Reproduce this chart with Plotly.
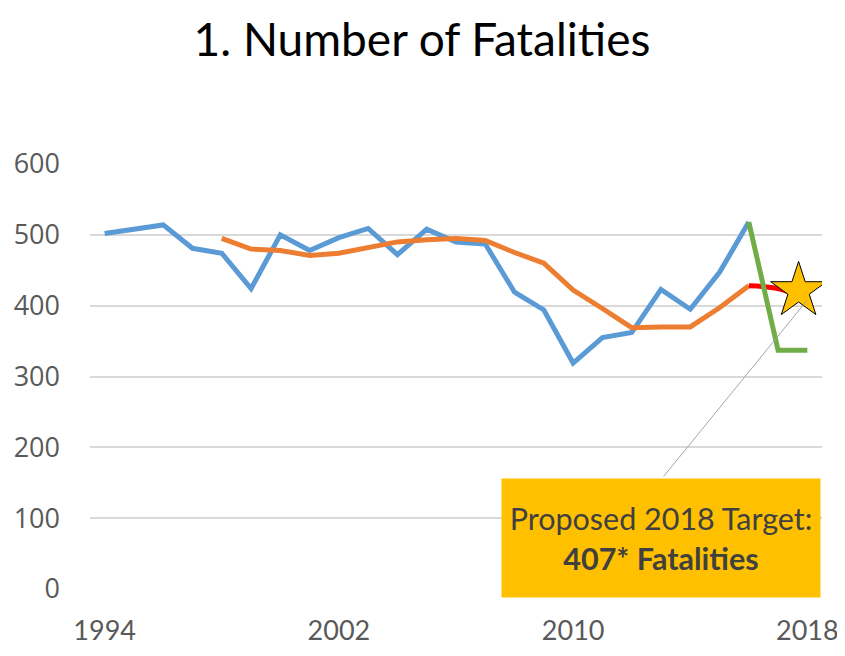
import plotly.graph_objects as go

years = list(range(1994, 2019))

fatalities = [502, 508, 514, 481, 474, 424, 500, 478, 496, 509, 472, 508, 490, 487,
              419, 394, 319, 355, 362, 423, 395, 447, 518, None, None]

five_year_avg = [None, None, None, None, 495, 480, 478, 471, 474, 482, 490, 493, 495, 492,
                 475, 460, 422, 396, 369, 370, 370, 397, 428, None, None]

trend_years = [2016, 2017, 2018]
trend_values = [428, 424, 408]

proposed_years = [2016, 2017, 2018]
proposed_values = [518, 337, 337]

target_year = [2017.7]
target_value = [421]

font = "Lato"
# page body has an 8px margin, keep the figure inside the window
W, H = 837, 640

fig = go.Figure()

fig.add_trace(go.Scatter(x=years, y=fatalities, mode="lines",
                         line=dict(color="#5B9BD5", width=5), connectgaps=False))
fig.add_trace(go.Scatter(x=years, y=five_year_avg, mode="lines",
                         line=dict(color="#ED7D31", width=5), connectgaps=False))
fig.add_trace(go.Scatter(x=trend_years, y=trend_values, mode="lines",
                         line=dict(color="#FF0000", width=5, shape="spline")))
fig.add_trace(go.Scatter(x=proposed_years, y=proposed_values, mode="lines",
                         line=dict(color="#70AD47", width=5)))
fig.add_trace(go.Scatter(x=target_year, y=target_value, mode="markers",
                         marker=dict(symbol="star", size=42, color="#FFC000",
                                     line=dict(color="black", width=1))))

# leader line from the target to the box
fig.add_annotation(x=2018, y=408, xref="x", yref="y", text="",
                   showarrow=True, arrowhead=0, arrowwidth=1, arrowcolor="#A6A6A6",
                   ax=-145, ay=178)

fig.add_annotation(x=2013.0, y=72, xref="x", yref="y",
                   text="Proposed 2018 Target:<br><b>407* Fatalities</b>",
                   showarrow=False, bgcolor="#FFC000", width=318, height=118,
                   borderpad=0, align="center",
                   font=dict(family=font, size=30.5, color="#404040"))

fig.update_layout(
    width=W, height=H,
    margin=dict(l=82, r=23, t=156, b=59),
    paper_bgcolor="white", plot_bgcolor="white",
    showlegend=False,
    title=dict(text="1. Number of Fatalities", x=414 / W, xref="container",
               y=1 - 32 / H, yanchor="middle", xanchor="center",
               font=dict(family=font, size=46, color="black")),
)

fig.update_xaxes(range=[1993.5, 2018.5], tickvals=[1994, 2002, 2010, 2018],
                 showgrid=False, zeroline=False, showline=False, ticks="",
                 ticklabelstandoff=23, automargin=False, ticklabeloverflow="allow",
                 tickfont=dict(family="Liberation Sans Narrow, Lato", size=27, color="#595959"))
fig.update_yaxes(range=[0, 600], dtick=100, showgrid=True, gridcolor="#D9D9D9",
                 gridwidth=1.5, zeroline=False, showline=False, ticks="",
                 ticklabelstandoff=29, automargin=False,
                 tickfont=dict(family="Open Sans", size=27, color="#595959"))

fig.write_html("out.html")
